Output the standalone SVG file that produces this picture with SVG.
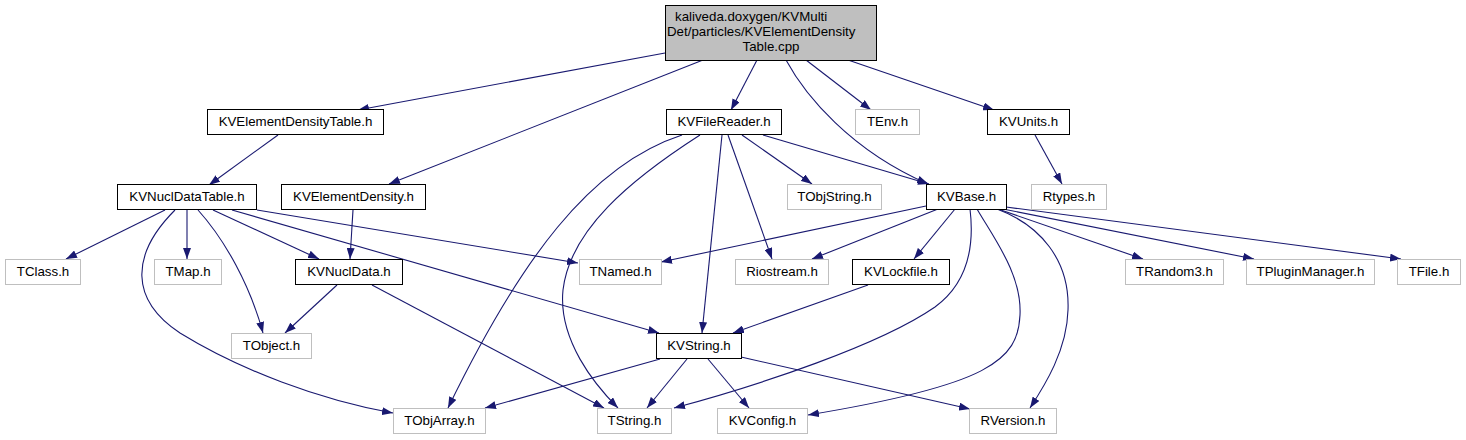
<svg xmlns="http://www.w3.org/2000/svg" width="1466" height="440" viewBox="0 0 1466 440">
<style>
  .bg { fill: #ffffff; }
  .n rect { fill: #ffffff; stroke: #000000; stroke-width: 1; }
  .g rect { fill: #ffffff; stroke: #bfbfbf; stroke-width: 1; }
  .root rect { fill: #bfbfbf; stroke: #000000; stroke-width: 1; }
  text { font-family: "Liberation Sans", Arial, sans-serif; font-size: 13.3px; fill: #000000; text-anchor: middle; }
  .edges path { fill: none; stroke: #191970; stroke-width: 1.1; marker-end: url(#ah); }
</style>
<defs>
  <marker id="ah" markerUnits="userSpaceOnUse" markerWidth="11" markerHeight="8" refX="11" refY="4" orient="auto" viewBox="0 0 11 8">
    <path d="M0,0 L11,4 L0,8 z" fill="#191970"/>
  </marker>
</defs>
<rect class="bg" x="0" y="0" width="1466" height="440"/>

<g class="edges" id="edges">
  <path d="M665,53 Q520,80 358,110"/>
  <path d="M703,60 L389,184"/>
  <path d="M757,60 L731,110"/>
  <path d="M786,60 C805,95 850,150 928,184"/>
  <path d="M806,60 L871,110"/>
  <path d="M848,60 L994,110"/>
  <path d="M278,135 L209,185"/>
  <path d="M353,210 L350,259"/>
  <path d="M165,210 L66,259"/>
  <path d="M175,210 C130,255 130,300 180,333 C240,370 320,400 393,413"/>
  <path d="M187,210 L187,259"/>
  <path d="M198,210 C225,240 250,285 263,333"/>
  <path d="M213,210 L319,259"/>
  <path d="M232,210 L659,333"/>
  <path d="M257,210 L578,263"/>
  <path d="M337,285 L285,333"/>
  <path d="M372,285 L604,408"/>
  <path d="M682,135 C590,165 520,260 448,408"/>
  <path d="M700,135 C630,180 570,230 563,290 C558,340 595,385 618,408"/>
  <path d="M722,135 L702,333"/>
  <path d="M728,135 L772,259"/>
  <path d="M742,135 L812,184"/>
  <path d="M763,135 L929,184"/>
  <path d="M926,206 L661,262"/>
  <path d="M938,209 L812,259"/>
  <path d="M955,209 L914,259"/>
  <path d="M970,209 C975,250 965,285 935,307 C880,345 760,385 674,408"/>
  <path d="M977,209 C995,240 1022,275 1020,315 C1018,360 990,385 808,415"/>
  <path d="M997,209 C1040,225 1070,260 1068,310 C1067,350 1045,385 1030,408"/>
  <path d="M998,209 L1143,259"/>
  <path d="M1003,209 L1254,259"/>
  <path d="M1006,207 L1401,259"/>
  <path d="M1035,135 L1062,184"/>
  <path d="M868,285 L733,333"/>
  <path d="M660,359 L485,408"/>
  <path d="M687,359 L647,408"/>
  <path d="M708,359 L749,408"/>
  <path d="M741,357 L970,409"/>
</g>

<g id="node_root" class="root">
  <rect x="665.5" y="5.5" width="211" height="55"/>
  <text x="675" y="20.5" style="text-anchor:start">kaliveda.doxygen/KVMulti</text>
  <text x="667" y="35.5" style="text-anchor:start">Det/particles/KVElementDensity</text>
  <text x="771" y="50.5">Table.cpp</text>
</g>

<g id="node_KVElementDensityTable" class="n"><rect x="207.5" y="109.5" width="176" height="25"/><text x="295.5" y="126">KVElementDensityTable.h</text></g>
<g id="node_KVFileReader" class="n"><rect x="666.5" y="109.5" width="115" height="25"/><text x="724" y="126">KVFileReader.h</text></g>
<g id="node_TEnv" class="g"><rect x="855.5" y="109.5" width="64" height="25"/><text x="887.5" y="126">TEnv.h</text></g>
<g id="node_KVUnits" class="n"><rect x="987.5" y="109.5" width="82" height="25"/><text x="1028.5" y="126">KVUnits.h</text></g>

<g id="node_KVNuclDataTable" class="n"><rect x="117.5" y="184.5" width="139" height="25"/><text x="187" y="201">KVNuclDataTable.h</text></g>
<g id="node_KVElementDensity" class="n"><rect x="281.5" y="184.5" width="144" height="25"/><text x="353.5" y="201">KVElementDensity.h</text></g>
<g id="node_TObjString" class="g"><rect x="787.5" y="184.5" width="94" height="25"/><text x="834.5" y="201">TObjString.h</text></g>
<g id="node_KVBase" class="n"><rect x="926.5" y="184.5" width="80" height="25"/><text x="966.5" y="201">KVBase.h</text></g>
<g id="node_Rtypes" class="g"><rect x="1031.5" y="184.5" width="75" height="25"/><text x="1069" y="201">Rtypes.h</text></g>

<g id="node_TClass" class="g"><rect x="5.5" y="259.5" width="75" height="25"/><text x="43" y="276">TClass.h</text></g>
<g id="node_TMap" class="g"><rect x="154.5" y="259.5" width="67" height="25"/><text x="188" y="276">TMap.h</text></g>
<g id="node_KVNuclData" class="n"><rect x="295.5" y="259.5" width="107" height="25"/><text x="349" y="276">KVNuclData.h</text></g>
<g id="node_TNamed" class="g"><rect x="579.5" y="259.5" width="82" height="25"/><text x="620.5" y="276">TNamed.h</text></g>
<g id="node_Riostream" class="g"><rect x="735.5" y="259.5" width="93" height="25"/><text x="782" y="276">Riostream.h</text></g>
<g id="node_KVLockfile" class="n"><rect x="852.5" y="259.5" width="97" height="25"/><text x="901" y="276">KVLockfile.h</text></g>
<g id="node_TRandom3" class="g"><rect x="1125.5" y="259.5" width="98" height="25"/><text x="1174.5" y="276">TRandom3.h</text></g>
<g id="node_TPluginManager" class="g"><rect x="1246.5" y="259.5" width="128" height="25"/><text x="1310.5" y="276">TPluginManager.h</text></g>
<g id="node_TFile" class="g"><rect x="1397.5" y="259.5" width="63" height="25"/><text x="1429" y="276">TFile.h</text></g>

<g id="node_TObject" class="g"><rect x="231.5" y="333.5" width="80" height="25"/><text x="271.5" y="350">TObject.h</text></g>
<g id="node_KVString" class="n"><rect x="656.5" y="333.5" width="85" height="25"/><text x="699" y="350">KVString.h</text></g>

<g id="node_TObjArray" class="g"><rect x="393.5" y="408.5" width="92" height="25"/><text x="439.5" y="425">TObjArray.h</text></g>
<g id="node_TString" class="g"><rect x="597.5" y="408.5" width="74" height="25"/><text x="634.5" y="425">TString.h</text></g>
<g id="node_KVConfig" class="g"><rect x="717.5" y="408.5" width="90" height="25"/><text x="762.5" y="425">KVConfig.h</text></g>
<g id="node_RVersion" class="g"><rect x="969.5" y="408.5" width="87" height="25"/><text x="1013" y="425">RVersion.h</text></g>
</svg>
